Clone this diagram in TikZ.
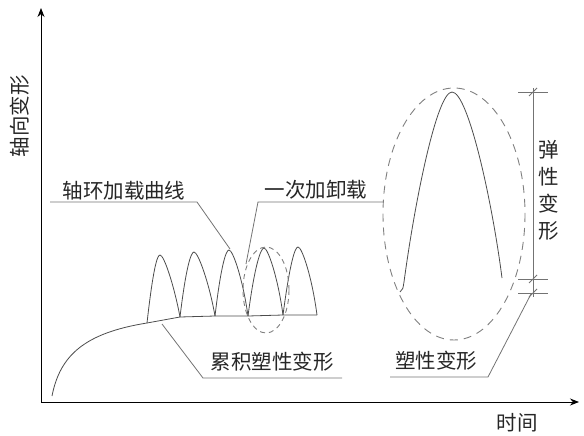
\documentclass[tikz,border=0pt]{standalone}
\usepackage{fontspec}
\newfontfamily\cjk{Noto Sans CJK SC}
\usetikzlibrary{arrows.meta}
\begin{document}
\begin{tikzpicture}[x=1pt,y=-1pt,
  lbl/.style={font=\cjk\fontsize{20.5}{23}\selectfont, inner sep=0pt, text=black!85},
  curve/.style={draw=black!70, line width=0.8pt},
  lead/.style={draw=black!55, line width=0.8pt},
  dash1/.style={draw=black!50, line width=0.9pt, dash pattern=on 5pt off 4pt},
  axis/.style={draw=black, line width=0.9pt, -{Stealth[length=9pt,width=7pt]}}]
\useasboundingbox (0,0) rectangle (584,436);
% axes
\coordinate (O) at (41,402);
\coordinate (Ytop) at (41,8);
\coordinate (Xend) at (579,402);
\draw[axis] (O) -- (Ytop);
\draw[axis] (O) -- (Xend);
\node[lbl, rotate=90] (ylab) at (20,116) {轴向变形};
\node[lbl] (xlab) at (517,423) {时间};
% main curve
\draw[curve] (52,396) .. controls (60,355) and (85,333) .. (147,323)
  -- (180,317) -- (215,316) -- (248,316) -- (283,315) -- (317,315);
% cycles
\draw[curve] (147,323) .. controls (153,270) and (157,255) .. (160,255)
  .. controls (164,255) and (174,285) .. (180,317);
\draw[curve] (180,317) .. controls (186,267) and (191,252) .. (194,252)
  .. controls (198,252) and (209,282) .. (215,316);
\draw[curve] (215,316) .. controls (221,265) and (226,250) .. (229,250)
  .. controls (233,250) and (243,280) .. (248,316);
\draw[curve] (248,316) .. controls (255,263) and (261,248) .. (264,248)
  .. controls (268,248) and (278,278) .. (283,315);
\draw[curve] (283,315) .. controls (290,262) and (295,247) .. (298,247)
  .. controls (302,247) and (312,277) .. (317,315);
% small ellipse
\draw[dash1] (266,290) ellipse [x radius=23, y radius=43];
% big peak
\draw[curve] (400,292) .. controls (403,290) and (403,288) .. (404,282)
  .. controls (415,200) and (437,92) .. (452,92)
  .. controls (468,92) and (492,200) .. (502,278);
% big ellipse
\draw[dash1, dash pattern=on 8pt off 6pt] (454,214) ellipse [x radius=71, y radius=126];
% dimension
\coordinate (dT) at (533,92);
\coordinate (dM) at (533,279);
\coordinate (dB) at (533,293);
\draw[lead] (533,88) -- (533,297);
\draw[lead] (518,92) -- (548,92);
\draw[lead] (518,279) -- (548,279);
\draw[lead] (518,293) -- (548,293);
\draw[lead] (529,96) -- (537,88);
\draw[lead] (529,283) -- (537,275);
\draw[lead] (529,297) -- (537,289);
\node[lbl] (e1) at (549,150) {弹};
\node[lbl] (e2) at (549,177) {性};
\node[lbl] (e3) at (549,204) {变};
\node[lbl] (e4) at (549,231) {形};
% labels with leaders
\node[lbl] (t1) at (124,191) {轴环加载曲线};
\draw[lead] (50,202) -- (197,202) -- (230,249);
\node[lbl] (t2) at (316,190) {一次加卸载};
\draw[lead] (383,202) -- (258,202) -- (246,264);
\node[lbl] (t3) at (272,362) {累积塑性变形};
\draw[lead] (342,378) -- (203,378) -- (162,324);
\node[lbl] (t4) at (436,361) {塑性变形};
\draw[lead] (390,377) -- (488,377) -- (531,294);
\end{tikzpicture}
\end{document}
